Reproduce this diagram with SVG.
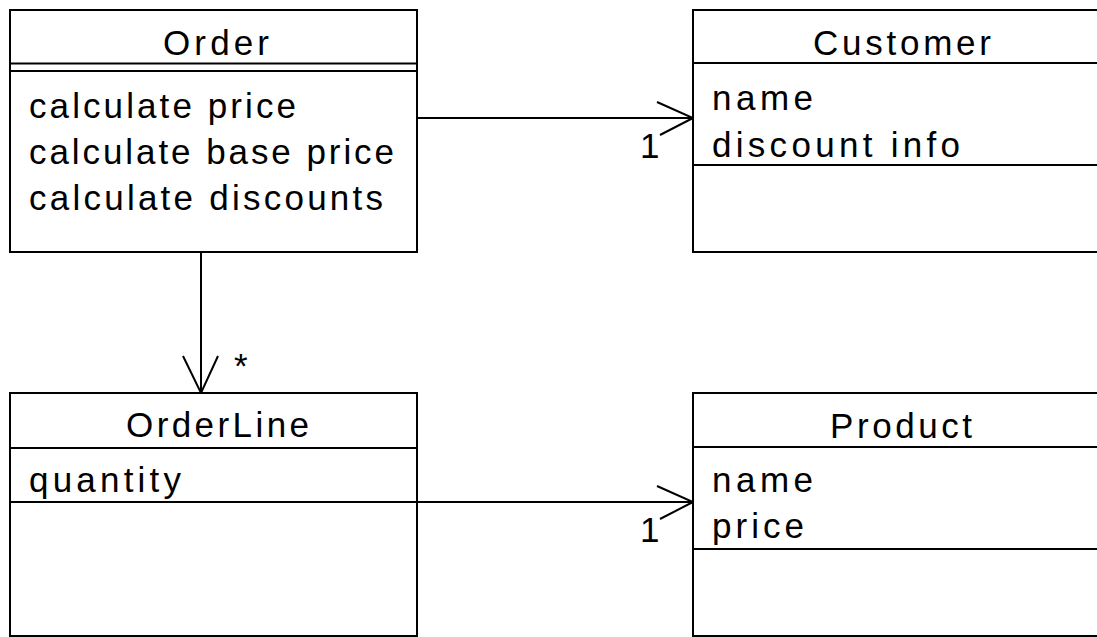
<svg xmlns="http://www.w3.org/2000/svg" width="1097" height="637" viewBox="0 0 1097 637">
<style>
.box{fill:#fff;stroke:#000;stroke-width:2}
.ln{stroke:#000;stroke-width:2;fill:none}
text{font-family:"Liberation Sans",Arial,sans-serif;font-size:35px;fill:#000}
</style>
<rect width="1097" height="637" fill="#fff"/>
<g id="connectors">
<path class="ln" d="M417,118 H693"/>
<path class="ln" d="M657,102 L693,118 L660,135"/>
<text x="640" y="158">1</text>
<path class="ln" d="M201,252 V393"/>
<path class="ln" d="M183,356 L201,393 L218,356"/>
<text x="234" y="378">*</text>
<path class="ln" d="M417,502 H693"/>
<path class="ln" d="M657,486 L693,502 L660,519"/>
<text x="640" y="542">1</text>
</g>
<g id="order">
<rect class="box" x="10" y="10" width="407" height="242"/>
<path class="ln" d="M10,63.5 H417 M10,71 H417"/>
<text x="163" y="55" textLength="106" lengthAdjust="spacing">Order</text>
<text x="29" y="118" textLength="267" lengthAdjust="spacing">calculate price</text>
<text x="29" y="164" textLength="365" lengthAdjust="spacing">calculate base price</text>
<text x="29" y="210" textLength="354" lengthAdjust="spacing">calculate discounts</text>
</g>
<g id="customer">
<rect class="box" x="693" y="10" width="420" height="242"/>
<path class="ln" d="M693,63 H1113 M693,165 H1113"/>
<text x="813" y="55" textLength="178" lengthAdjust="spacing">Customer</text>
<text x="712" y="110" textLength="101" lengthAdjust="spacing">name</text>
<text x="712" y="157" textLength="248" lengthAdjust="spacing">discount info</text>
</g>
<g id="orderline">
<rect class="box" x="10" y="393" width="407" height="243"/>
<path class="ln" d="M10,448 H417 M10,502 H417"/>
<text x="126" y="437" textLength="183" lengthAdjust="spacing">OrderLine</text>
<text x="29" y="492" textLength="152" lengthAdjust="spacing">quantity</text>
</g>
<g id="product">
<rect class="box" x="693" y="393" width="420" height="243"/>
<path class="ln" d="M693,447 H1113 M693,549 H1113"/>
<text x="830" y="438" textLength="142" lengthAdjust="spacing">Product</text>
<text x="712" y="492" textLength="101" lengthAdjust="spacing">name</text>
<text x="712" y="538" textLength="92" lengthAdjust="spacing">price</text>
</g>
</svg>
